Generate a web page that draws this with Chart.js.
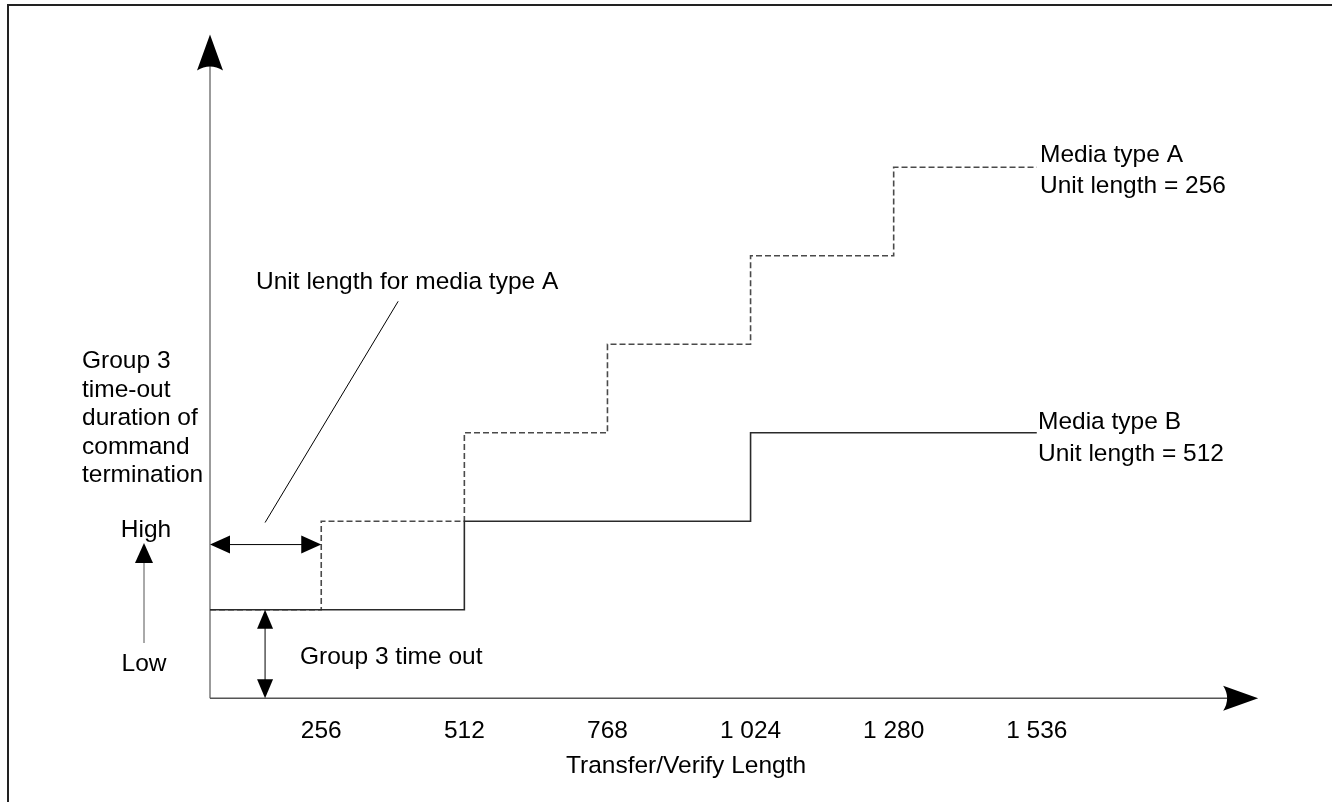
<!DOCTYPE html>
<html><head><meta charset="utf-8">
<script src="https://cdn.jsdelivr.net/npm/chart.js@4/dist/chart.umd.min.js"></script>
<style>html,body{margin:0;padding:0;background:#fff}#wrap{width:1332px;height:802px;position:relative}</style>
</head><body><div id="wrap"><canvas id="c"></canvas></div>
<script>
// ---- data ----
const xTicks = [256, 512, 768, 1024, 1280, 1536];
const xTickLabels = ['256', '512', '768', '1 024', '1 280', '1 536'];
const mediaAX = [57, 256, 512, 768, 1024, 1280, 1536];
const mediaAY = [1, 2, 3, 4, 5, 6, 6];
const mediaBX = [57, 512, 1024, 1536];
const mediaBY = [1, 2, 3, 3];
const seriesNames = ['Media type A', 'Media type B'];
const seriesNotes = ['Unit length = 256', 'Unit length = 512'];
const xAxisTitle = 'Transfer/Verify Length';
const yAxisLines = ['Group 3', 'time-out', 'duration of', 'command', 'termination'];

// ---- scale extents ----
const X_MIN = 57, X_MAX = 1760, X_ARROW = 1932;
const Y_MIN = 0, Y_MAX = 7.5;

const FAMILY = '"Liberation Sans", Arial, Helvetica, sans-serif';
const FONT = '24.5px ' + FAMILY;

function pts(xs, ys) { return xs.map((v, i) => ({x: v, y: ys[i]})); }

function head(ctx, tx, ty, dx, dy, len, hw, concave) {
  const bx = tx - dx * len, by = ty - dy * len;
  const px = -dy, py = dx;
  ctx.beginPath();
  ctx.moveTo(tx, ty);
  ctx.lineTo(bx + px * hw, by + py * hw);
  if (concave) ctx.quadraticCurveTo(bx + dx * concave, by + dy * concave, bx - px * hw, by - py * hw);
  else ctx.lineTo(bx - px * hw, by - py * hw);
  ctx.closePath();
  ctx.fill();
}
function seg(ctx, x1, y1, x2, y2) { ctx.beginPath(); ctx.moveTo(x1, y1); ctx.lineTo(x2, y2); ctx.stroke(); }

const deco = {
  id: 'deco',
  beforeDatasetsDraw(chart) {
    const {ctx, scales: {x, y}} = chart;
    ctx.save();
    // outer frame
    ctx.strokeStyle = '#222'; ctx.lineWidth = 2;
    ctx.strokeRect(8, 5, 1500, 1000);
    const ax = x.getPixelForValue(X_MIN), ay = y.getPixelForValue(0);
    const yTip = y.getPixelForValue(Y_MAX), xTip = x.getPixelForValue(X_ARROW);
    // y axis
    ctx.strokeStyle = '#7a7a7a'; ctx.lineWidth = 1.5;
    seg(ctx, ax, ay, ax, yTip + 30);
    ctx.fillStyle = '#000';
    head(ctx, ax, yTip, 0, -1, 36, 13, 8);
    // x axis
    ctx.strokeStyle = '#555'; ctx.lineWidth = 1.5;
    seg(ctx, ax, ay, xTip - 30, ay);
    head(ctx, xTip, ay, 1, 0, 35, 12.5, 8);
    ctx.restore();
  },
  afterDatasetsDraw(chart) {
    const {ctx, scales: {x, y}} = chart;
    ctx.save();
    ctx.fillStyle = '#000'; ctx.strokeStyle = '#000'; ctx.lineWidth = 1;
    // unit length double arrow (0 .. first step of A)
    const ha = y.getPixelForValue(1.736);
    const l = x.getPixelForValue(mediaAX[0]), r = x.getPixelForValue(mediaAX[1]);
    seg(ctx, l + 18, ha, r - 18, ha);
    head(ctx, l, ha, -1, 0, 20, 9, 0);
    head(ctx, r, ha, 1, 0, 20, 9, 0);
    // group 3 time-out vertical double arrow
    const vx = x.getPixelForValue(155.5);
    const t = y.getPixelForValue(mediaAY[0]), b = y.getPixelForValue(0);
    seg(ctx, vx, t + 18, vx, b - 18);
    head(ctx, vx, t, 0, -1, 19, 8, 0);
    head(ctx, vx, b, 0, 1, 19, 8, 0);
    // leader line
    seg(ctx, x.getPixelForValue(393.6), y.getPixelForValue(4.485), x.getPixelForValue(155.5), y.getPixelForValue(1.985));
    // Low -> High arrow
    ctx.strokeStyle = '#555';
    seg(ctx, 144, 643, 144, 560);
    head(ctx, 144, 543, 0, -1, 20, 9, 0);

    // texts
    ctx.font = FONT; ctx.fillStyle = '#000'; ctx.textBaseline = 'alphabetic';
    ctx.textAlign = 'left';
    ctx.fillText(seriesNames[0], 1040, 162);
    ctx.fillText(seriesNotes[0], 1040, 193);
    ctx.fillText(seriesNames[1], 1038, 429);
    ctx.fillText(seriesNotes[1], 1038, 461);
    ctx.fillText('Unit length for media type A', 256, 289);
    ctx.fillText('Group 3 time out', 300, 664);
    const bl = [368, 397, 425, 454, 482];
    yAxisLines.forEach((s, i) => ctx.fillText(s, 82, bl[i]));
    ctx.textAlign = 'center';
    ctx.fillText('High', 146, 537);
    ctx.fillText('Low', 144, 671);
    ctx.restore();
  }
};

new Chart(document.getElementById('c'), {
  type: 'scatter',
  data: {
    datasets: [
      {label: seriesNames[1], data: pts(mediaBX, mediaBY), showLine: true, stepped: 'before',
       borderColor: '#2a2a2a', borderWidth: 1.6, pointRadius: 0, fill: false},
      {label: seriesNames[0], data: pts(mediaAX, mediaAY), showLine: true, stepped: 'before',
       borderColor: '#4a4a4a', borderWidth: 1.6, borderDash: [6, 3], pointRadius: 0, fill: false}
    ]
  },
  options: {
    responsive: true, maintainAspectRatio: false, animation: false,
    layout: {padding: {left: 210, top: 34.5, right: 170, bottom: 21}},
    plugins: {legend: {display: false}, tooltip: {enabled: false}, title: {display: false}},
    scales: {
      x: {
        type: 'linear', min: X_MIN, max: X_MAX,
        grid: {display: false, drawTicks: false},
        border: {display: false},
        afterBuildTicks: (s) => { s.ticks = xTicks.map(v => ({value: v})); },
        ticks: {
          padding: 18, color: '#000', font: {size: 24.5, family: FAMILY},
          maxRotation: 0, autoSkip: false,
          callback: (v) => { const i = xTicks.indexOf(v); return i >= 0 ? xTickLabels[i] : ''; }
        },
        title: {display: true, text: xAxisTitle, color: '#000', font: {size: 24.5, family: FAMILY},
                padding: {top: -12, bottom: 0}}
      },
      y: {
        type: 'linear', min: Y_MIN, max: Y_MAX,
        grid: {display: false, drawTicks: false},
        border: {display: false},
        ticks: {display: false}
      }
    }
  },
  plugins: [deco]
});
</script>
</body></html>
